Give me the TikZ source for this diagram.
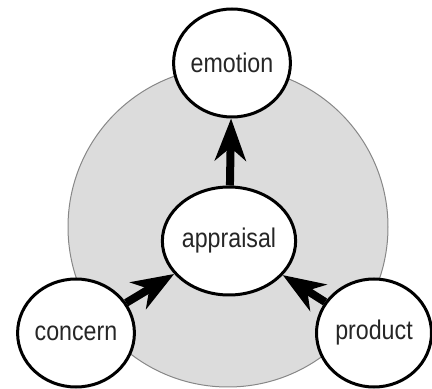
\documentclass[tikz,border=0pt]{standalone}
\usepackage{fontspec}
\setmainfont[FakeStretch=0.86]{Liberation Sans}
\usepackage{tikz}
\usetikzlibrary{arrows.meta,positioning,shapes.geometric}
\definecolor{discfill}{RGB}{220,220,220}
\definecolor{discline}{RGB}{135,135,135}
\tikzset{
  stage/.style={ellipse,draw=black,line width=3pt,fill=white,inner sep=0pt,
    minimum width=115pt,minimum height=108pt,text=black!85,
    font=\fontsize{27}{32}\selectfont},
  flow/.style={line width=8pt,-{Stealth[length=42pt,width=31pt,inset=13pt]}}
}

\begin{document}
\begin{tikzpicture}[x=1pt,y=1pt]
    \useasboundingbox (0,0) rectangle (432,389);
    % background disc
    \node[circle,fill=discfill,draw=discline,line width=1pt,minimum size=320pt,inner sep=0pt] (disc) at (228,162) {};
    \node[stage] (appraisal) at (229,148) {appraisal};
    \node[stage] (emotion) at (232,326) {emotion};
    \node[stage] (concern) at (76,56) {concern};
    \node[stage] (product) at (374,56) {product};
    \draw[flow] (appraisal) -- (emotion);
    \draw[flow] (concern) -- (appraisal);
    \draw[flow] (product) -- (appraisal);
\end{tikzpicture}
\end{document}
